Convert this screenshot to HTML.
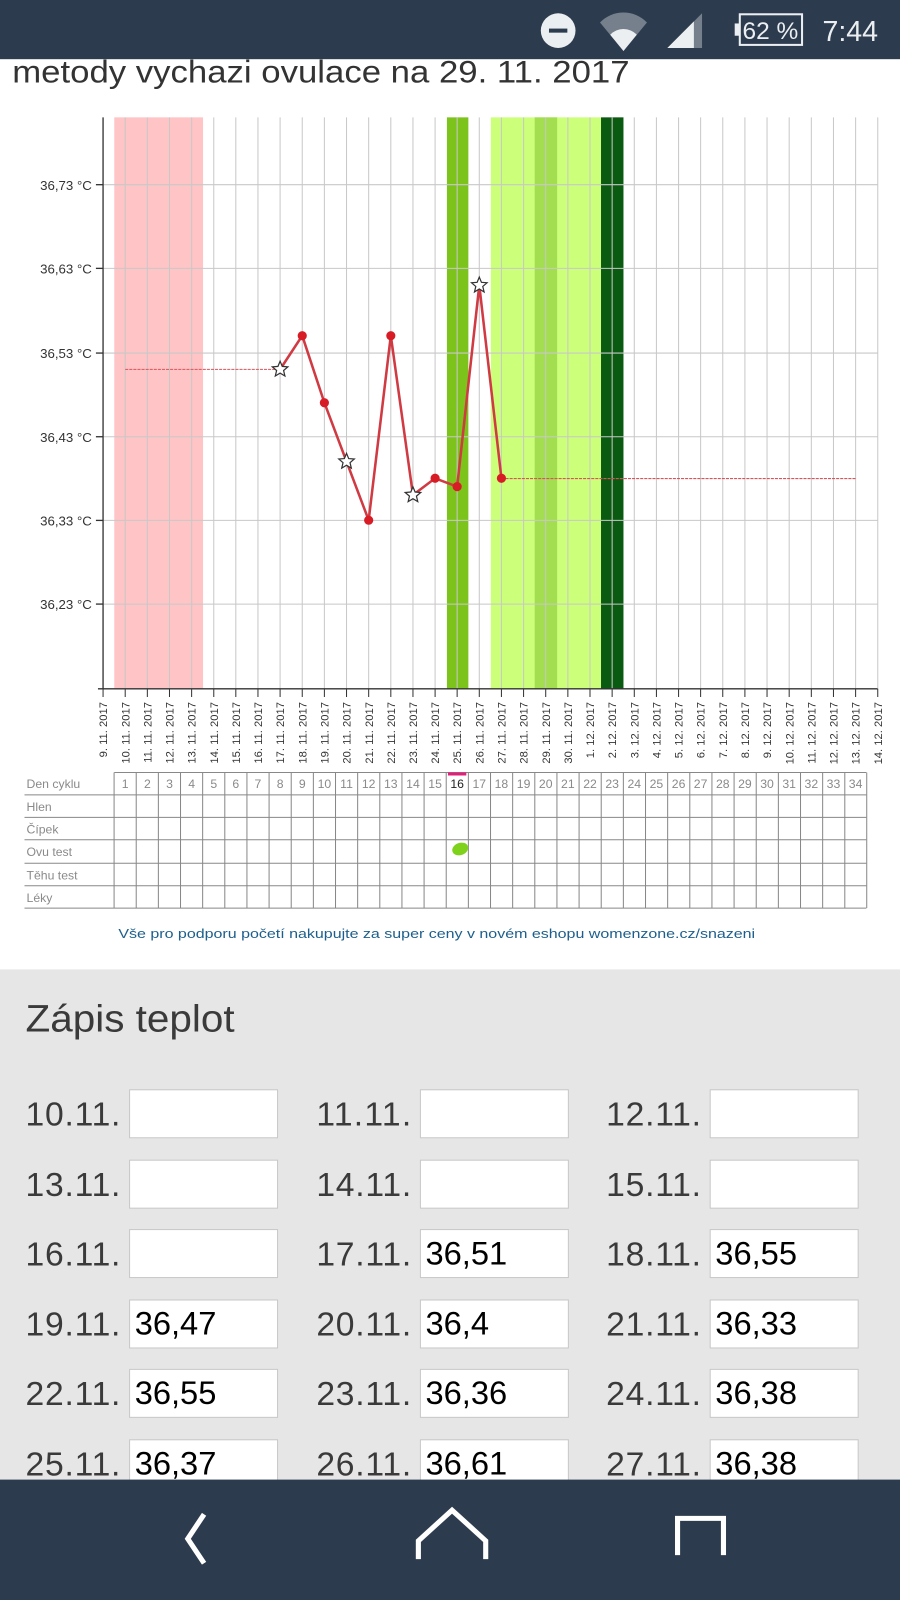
<!DOCTYPE html>
<html><head><meta charset="utf-8"><style>html,body{margin:0;padding:0;background:#fff;overflow:hidden}svg{display:block}</style></head>
<body>
<svg width="900" height="1600" viewBox="0 0 882 1568" preserveAspectRatio="none" xmlns="http://www.w3.org/2000/svg" font-family="Liberation Sans, sans-serif">
<defs>
<polygon id="st" points="0,-8 2.12,-2.91 7.61,-2.47 3.42,1.11 4.70,6.47 0,3.6 -4.70,6.47 -3.42,1.11 -7.61,-2.47 -2.12,-2.91" fill="#fff" stroke="#333" stroke-width="1.2"/>
</defs>
<rect width="882" height="1568" fill="#fff"/>
<text x="12" y="81" font-size="31" fill="#333" textLength="605" lengthAdjust="spacingAndGlyphs">metody vychazi ovulace na 29. 11. 2017</text>

<!-- bands -->
<rect x="112" y="115" width="87" height="560" fill="#ffc4c6"/>
<rect x="438" y="115" width="21" height="560" fill="#7cc31c"/>
<rect x="481" y="115" width="108" height="560" fill="#ccff7a"/>
<rect x="524" y="115" width="22" height="560" fill="#a2de50"/>
<rect x="589" y="115" width="22" height="560" fill="#0a5a12"/>

<!-- grid -->
<g stroke="#c8c8c8" stroke-width="1">
<line x1="101" x2="860" y1="181" y2="181"/><line x1="101" x2="860" y1="263" y2="263"/><line x1="101" x2="860" y1="346" y2="346"/><line x1="101" x2="860" y1="428" y2="428"/><line x1="101" x2="860" y1="510" y2="510"/><line x1="101" x2="860" y1="592" y2="592"/>
<line x1="122.7" x2="122.7" y1="115" y2="675"/><line x1="144.4" x2="144.4" y1="115" y2="675"/><line x1="166.1" x2="166.1" y1="115" y2="675"/><line x1="187.8" x2="187.8" y1="115" y2="675"/><line x1="209.5" x2="209.5" y1="115" y2="675"/><line x1="231.1" x2="231.1" y1="115" y2="675"/><line x1="252.8" x2="252.8" y1="115" y2="675"/><line x1="274.5" x2="274.5" y1="115" y2="675"/><line x1="296.2" x2="296.2" y1="115" y2="675"/><line x1="317.9" x2="317.9" y1="115" y2="675"/><line x1="339.6" x2="339.6" y1="115" y2="675"/><line x1="361.3" x2="361.3" y1="115" y2="675"/><line x1="383" x2="383" y1="115" y2="675"/><line x1="404.7" x2="404.7" y1="115" y2="675"/><line x1="426.4" x2="426.4" y1="115" y2="675"/><line x1="448" x2="448" y1="115" y2="675"/><line x1="469.7" x2="469.7" y1="115" y2="675"/><line x1="491.4" x2="491.4" y1="115" y2="675"/><line x1="513.1" x2="513.1" y1="115" y2="675"/><line x1="534.8" x2="534.8" y1="115" y2="675"/><line x1="556.5" x2="556.5" y1="115" y2="675"/><line x1="578.2" x2="578.2" y1="115" y2="675"/><line x1="599.9" x2="599.9" y1="115" y2="675"/><line x1="621.6" x2="621.6" y1="115" y2="675"/><line x1="643.3" x2="643.3" y1="115" y2="675"/><line x1="665" x2="665" y1="115" y2="675"/><line x1="686.6" x2="686.6" y1="115" y2="675"/><line x1="708.3" x2="708.3" y1="115" y2="675"/><line x1="730" x2="730" y1="115" y2="675"/><line x1="751.7" x2="751.7" y1="115" y2="675"/><line x1="773.4" x2="773.4" y1="115" y2="675"/><line x1="795.1" x2="795.1" y1="115" y2="675"/><line x1="816.8" x2="816.8" y1="115" y2="675"/><line x1="838.5" x2="838.5" y1="115" y2="675"/><line x1="860.2" x2="860.2" y1="115" y2="675"/>
</g>
<!-- axes -->
<g stroke="#333" stroke-width="1.3">
<line x1="101" x2="101" y1="115" y2="675"/><line x1="96" x2="860" y1="675" y2="675"/>
<line x1="94" x2="101" y1="181" y2="181"/><line x1="94" x2="101" y1="263" y2="263"/><line x1="94" x2="101" y1="346" y2="346"/><line x1="94" x2="101" y1="428" y2="428"/><line x1="94" x2="101" y1="510" y2="510"/><line x1="94" x2="101" y1="592" y2="592"/>
</g>
<g font-size="13" fill="#333" text-anchor="end">
<text x="90" y="186">36,73 °C</text><text x="90" y="268">36,63 °C</text><text x="90" y="351">36,53 °C</text><text x="90" y="433">36,43 °C</text><text x="90" y="515">36,33 °C</text><text x="90" y="597">36,23 °C</text>
</g>
<!-- ticks -->
<g stroke="#333" stroke-width="1">
<path d="M101 675v8M122.7 675v8M144.4 675v8M166.1 675v8M187.8 675v8M209.5 675v8M231.1 675v8M252.8 675v8M274.5 675v8M296.2 675v8M317.9 675v8M339.6 675v8M361.3 675v8M383 675v8M404.7 675v8M426.4 675v8M448 675v8M469.7 675v8M491.4 675v8M513.1 675v8M534.8 675v8M556.5 675v8M578.2 675v8M599.9 675v8M621.6 675v8M643.3 675v8M665 675v8M686.6 675v8M708.3 675v8M730 675v8M751.7 675v8M773.4 675v8M795.1 675v8M816.8 675v8M838.5 675v8M860.2 675v8"/>
</g>
<g font-size="11" fill="#333" text-anchor="end">
<text transform="translate(105,688) rotate(-90)">9. 11. 2017</text>
<text transform="translate(126.7,688) rotate(-90)">10. 11. 2017</text>
<text transform="translate(148.4,688) rotate(-90)">11. 11. 2017</text>
<text transform="translate(170.1,688) rotate(-90)">12. 11. 2017</text>
<text transform="translate(191.8,688) rotate(-90)">13. 11. 2017</text>
<text transform="translate(213.5,688) rotate(-90)">14. 11. 2017</text>
<text transform="translate(235.1,688) rotate(-90)">15. 11. 2017</text>
<text transform="translate(256.8,688) rotate(-90)">16. 11. 2017</text>
<text transform="translate(278.5,688) rotate(-90)">17. 11. 2017</text>
<text transform="translate(300.2,688) rotate(-90)">18. 11. 2017</text>
<text transform="translate(321.9,688) rotate(-90)">19. 11. 2017</text>
<text transform="translate(343.6,688) rotate(-90)">20. 11. 2017</text>
<text transform="translate(365.3,688) rotate(-90)">21. 11. 2017</text>
<text transform="translate(387,688) rotate(-90)">22. 11. 2017</text>
<text transform="translate(408.7,688) rotate(-90)">23. 11. 2017</text>
<text transform="translate(430.4,688) rotate(-90)">24. 11. 2017</text>
<text transform="translate(452,688) rotate(-90)">25. 11. 2017</text>
<text transform="translate(473.7,688) rotate(-90)">26. 11. 2017</text>
<text transform="translate(495.4,688) rotate(-90)">27. 11. 2017</text>
<text transform="translate(517.1,688) rotate(-90)">28. 11. 2017</text>
<text transform="translate(538.8,688) rotate(-90)">29. 11. 2017</text>
<text transform="translate(560.5,688) rotate(-90)">30. 11. 2017</text>
<text transform="translate(582.2,688) rotate(-90)">1. 12. 2017</text>
<text transform="translate(603.9,688) rotate(-90)">2. 12. 2017</text>
<text transform="translate(625.6,688) rotate(-90)">3. 12. 2017</text>
<text transform="translate(647.3,688) rotate(-90)">4. 12. 2017</text>
<text transform="translate(669,688) rotate(-90)">5. 12. 2017</text>
<text transform="translate(690.6,688) rotate(-90)">6. 12. 2017</text>
<text transform="translate(712.3,688) rotate(-90)">7. 12. 2017</text>
<text transform="translate(734,688) rotate(-90)">8. 12. 2017</text>
<text transform="translate(755.7,688) rotate(-90)">9. 12. 2017</text>
<text transform="translate(777.4,688) rotate(-90)">10. 12. 2017</text>
<text transform="translate(799.1,688) rotate(-90)">11. 12. 2017</text>
<text transform="translate(820.8,688) rotate(-90)">12. 12. 2017</text>
<text transform="translate(842.5,688) rotate(-90)">13. 12. 2017</text>
<text transform="translate(864.2,688) rotate(-90)">14. 12. 2017</text>
</g>

<!-- series -->
<line x1="122.7" x2="274.5" y1="362" y2="362" stroke="#d9535a" stroke-width="1" stroke-dasharray="3 1"/>
<line x1="491.4" x2="838.5" y1="469" y2="469" stroke="#d9535a" stroke-width="1" stroke-dasharray="3 1"/>
<polyline points="274.5,362 296.2,329 317.9,394.7 339.6,452.3 361.3,509.8 383,329 404.7,485.1 426.4,468.7 448,476.9 469.7,279.6 491.4,468.7" fill="none" stroke="#d03a42" stroke-width="2.5"/>
<g fill="#d81c26">
<circle cx="296.2" cy="329" r="4.5"/><circle cx="317.9" cy="394.7" r="4.5"/><circle cx="361.3" cy="509.8" r="4.5"/><circle cx="383" cy="329" r="4.5"/><circle cx="426.4" cy="468.7" r="4.5"/><circle cx="448" cy="476.9" r="4.5"/><circle cx="491.4" cy="468.7" r="4.5"/>
</g>
<use href="#st" x="274.5" y="362"/><use href="#st" x="339.6" y="452.3"/><use href="#st" x="404.7" y="485.1"/><use href="#st" x="469.7" y="279.6"/>

<!-- table -->
<g stroke="#888" stroke-width="1" fill="none">
<path d="M24 779H849M24 801H849M24 823H849M24 846H849M24 868H849M24 890H849M112 757H849"/>
<path d="M111.8 757V890M133.5 757V890M155.2 757V890M176.9 757V890M198.6 757V890M220.3 757V890M242 757V890M263.7 757V890M285.4 757V890M307.1 757V890M328.8 757V890M350.5 757V890M372.2 757V890M393.9 757V890M415.6 757V890M437.3 757V890M459 757V890M480.7 757V890M502.4 757V890M524.1 757V890M545.8 757V890M567.5 757V890M589.2 757V890M610.9 757V890M632.6 757V890M654.3 757V890M676 757V890M697.7 757V890M719.4 757V890M741.1 757V890M762.8 757V890M784.5 757V890M806.2 757V890M827.9 757V890M849.4 757V890"/>
</g>
<g font-size="12" fill="#8a8a8a">
<text x="26" y="772">Den cyklu</text><text x="26" y="795">Hlen</text><text x="26" y="817">Čípek</text><text x="26" y="839">Ovu test</text><text x="26" y="862">Těhu test</text><text x="26" y="884">Léky</text>
</g>
<g font-size="12" fill="#8a8a8a" text-anchor="middle">
<text x="122.7" y="772">1</text><text x="144.4" y="772">2</text><text x="166.1" y="772">3</text><text x="187.8" y="772">4</text><text x="209.5" y="772">5</text><text x="231.1" y="772">6</text><text x="252.8" y="772">7</text><text x="274.5" y="772">8</text><text x="296.2" y="772">9</text><text x="317.9" y="772">10</text><text x="339.6" y="772">11</text><text x="361.3" y="772">12</text><text x="383" y="772">13</text><text x="404.7" y="772">14</text><text x="426.4" y="772">15</text><text x="448" y="772" fill="#222">16</text><text x="469.7" y="772">17</text><text x="491.4" y="772">18</text><text x="513.1" y="772">19</text><text x="534.8" y="772">20</text><text x="556.5" y="772">21</text><text x="578.2" y="772">22</text><text x="599.9" y="772">23</text><text x="621.6" y="772">24</text><text x="643.3" y="772">25</text><text x="665" y="772">26</text><text x="686.6" y="772">27</text><text x="708.3" y="772">28</text><text x="730" y="772">29</text><text x="751.7" y="772">30</text><text x="773.4" y="772">31</text><text x="795.1" y="772">32</text><text x="816.8" y="772">33</text><text x="838.5" y="772">34</text>
</g>
<rect x="439" y="757" width="18" height="3" fill="#e0207a"/>
<ellipse cx="451" cy="832" rx="8" ry="6" fill="#7fd21c" transform="rotate(-20 451 832)"/>
<text x="116" y="919" font-size="13" fill="#1c5f8c" textLength="624" lengthAdjust="spacingAndGlyphs">Vše pro podporu početí nakupujte za super ceny v novém eshopu womenzone.cz/snazeni</text>

<!-- gray section -->
<rect x="0" y="950" width="882" height="500" fill="#e6e6e6"/>
<text x="25" y="1011" font-size="37" fill="#3a3a3a" textLength="205" lengthAdjust="spacingAndGlyphs">Zápis teplot</text>
<g fill="#fff" stroke="#c8c8c8" stroke-width="1">
<rect x="127" y="1068" width="145" height="47"/><rect x="412" y="1068" width="145" height="47"/><rect x="696" y="1068" width="145" height="47"/>
<rect x="127" y="1137" width="145" height="47"/><rect x="412" y="1137" width="145" height="47"/><rect x="696" y="1137" width="145" height="47"/>
<rect x="127" y="1205" width="145" height="47"/><rect x="412" y="1205" width="145" height="47"/><rect x="696" y="1205" width="145" height="47"/>
<rect x="127" y="1274" width="145" height="47"/><rect x="412" y="1274" width="145" height="47"/><rect x="696" y="1274" width="145" height="47"/>
<rect x="127" y="1342" width="145" height="47"/><rect x="412" y="1342" width="145" height="47"/><rect x="696" y="1342" width="145" height="47"/>
<rect x="127" y="1411" width="145" height="47"/><rect x="412" y="1411" width="145" height="47"/><rect x="696" y="1411" width="145" height="47"/>
</g>
<g font-size="33" fill="#3a3a3a" lengthAdjust="spacingAndGlyphs">
<text x="25" y="1103" textLength="93">10.11.</text><text x="310" y="1103" textLength="93">11.11.</text><text x="594" y="1103" textLength="93">12.11.</text>
<text x="25" y="1172" textLength="93">13.11.</text><text x="310" y="1172" textLength="93">14.11.</text><text x="594" y="1172" textLength="93">15.11.</text>
<text x="25" y="1240" textLength="93">16.11.</text><text x="310" y="1240" textLength="93">17.11.</text><text x="594" y="1240" textLength="93">18.11.</text>
<text x="25" y="1309" textLength="93">19.11.</text><text x="310" y="1309" textLength="93">20.11.</text><text x="594" y="1309" textLength="93">21.11.</text>
<text x="25" y="1377" textLength="93">22.11.</text><text x="310" y="1377" textLength="93">23.11.</text><text x="594" y="1377" textLength="93">24.11.</text>
<text x="25" y="1446" textLength="93">25.11.</text><text x="310" y="1446" textLength="93">26.11.</text><text x="594" y="1446" textLength="93">27.11.</text>
</g>
<g font-size="32" fill="#000">
<text x="417" y="1239">36,51</text><text x="701" y="1239">36,55</text>
<text x="132" y="1308">36,47</text><text x="417" y="1308">36,4</text><text x="701" y="1308">36,33</text>
<text x="132" y="1376">36,55</text><text x="417" y="1376">36,36</text><text x="701" y="1376">36,38</text>
<text x="132" y="1445">36,37</text><text x="417" y="1445">36,61</text><text x="701" y="1445">36,38</text>
</g>

<!-- status bar -->
<rect x="0" y="0" width="882" height="58" fill="#2c3b4e"/>
<circle cx="547" cy="30" r="17" fill="#eceff1"/><rect x="538" y="28" width="18" height="4" fill="#2c3b4e"/>
<path d="M588 22 A32 32 0 0 1 634 22 L611 50 Z" fill="#75808c"/>
<path d="M598 34 A18 18 0 0 1 624 34 L611 50 Z" fill="#eceff1"/>
<path d="M654 47 L688 13 L688 47 Z" fill="#75808c"/><path d="M654 47 L680 21 L680 47 Z" fill="#eceff1"/>
<rect x="725" y="14" width="61" height="30" fill="none" stroke="#eceff1" stroke-width="2"/>
<rect x="720" y="23" width="5" height="12" fill="#eceff1"/>
<text x="755" y="38" font-size="24" fill="#eceff1" text-anchor="middle">62 %</text>
<text x="806" y="40" font-size="28" fill="#eceff1">7:44</text>

<!-- nav bar -->
<rect x="0" y="1450" width="882" height="118" fill="#2c3b4e"/>
<path d="M200 1484 L184 1508 L200 1532" fill="none" stroke="#fff" stroke-width="5"/>
<path d="M410 1528 V1510 L443 1480 L476 1510 V1528" fill="none" stroke="#fff" stroke-width="5"/>
<path d="M664 1524 V1488 H709 V1524" fill="none" stroke="#fff" stroke-width="5"/>
</svg>
</body></html>
